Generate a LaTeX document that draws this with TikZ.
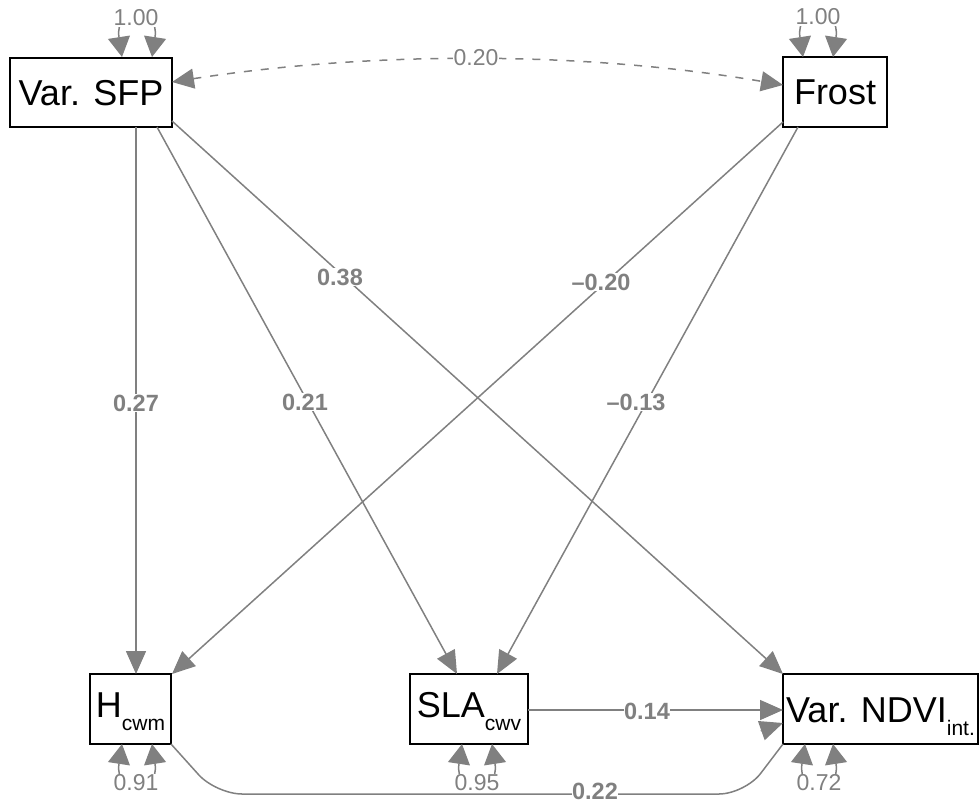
\documentclass[tikz,border=0pt]{standalone}
\usepackage{fontspec}
\setmainfont{Liberation Sans}
\usetikzlibrary{arrows.meta}
\definecolor{edgegray}{HTML}{808080}
\newcommand\subtxt[1]{\raisebox{-13pt}{\fontsize{21}{21}\selectfont #1}}
\begin{document}
\begin{tikzpicture}[x=1pt,y=-1pt,
  box/.style={draw=black,line width=2pt,inner sep=0pt,text height=25.8pt,text depth=0pt,
              font=\fontsize{36}{36}\selectfont},
  edge/.style={draw=edgegray,line width=1.5pt,-{Triangle[length=23pt,width=20pt]}},
  loopedge/.style={draw=edgegray,line width=1.5pt,{Triangle[length=20pt,width=22pt]}-{Triangle[length=20pt,width=22pt]}},
  covedge/.style={draw=edgegray,line width=1.5pt,dash pattern=on 8pt off 9pt,{Triangle[length=22pt,width=20pt]}-{Triangle[length=22pt,width=20pt]}},
  lbl/.style={fill=white,inner sep=0.5pt,text=edgegray,font=\bfseries\fontsize{23.5}{23.5}\selectfont},
  rlbl/.style={fill=white,inner sep=0.5pt,text=edgegray,font=\fontsize{23}{23}\selectfont}
]
\useasboundingbox (0,0) rectangle (980,803);

% nodes
\node[box,minimum width=162pt,minimum height=69pt] (sfp) at (91,92.5) {Var. SFP};
\node[box,minimum width=104pt,minimum height=70pt] (frost) at (835,92) {Frost};
\node[box,minimum width=81pt,minimum height=70pt] (hcwm) at (130.5,709) {\raisebox{4pt}{H\subtxt{cwm}}};
\node[box,minimum width=118pt,minimum height=70pt] (sla) at (469,709) {\raisebox{4pt}{SLA\subtxt{cwv}}};
\node[box,minimum width=195pt,minimum height=70pt] (ndvi) at (880.5,709) {\raisebox{-1pt}{Var. NDVI\subtxt{int.}}};

% connector end points
\coordinate (sfpA) at (136,127);
\coordinate (sfpB) at (157,127);
\coordinate (sfpC) at (172,121);
\coordinate (sfpD) at (172,82);
\coordinate (frA) at (783,122);
\coordinate (frB) at (798,127);
\coordinate (frD) at (783,85);
\coordinate (hA) at (136,674);
\coordinate (hB) at (172,674);
\coordinate (hC) at (171,744);
\coordinate (slaA) at (457,674);
\coordinate (slaB) at (497,674);
\coordinate (slaC) at (528,710);
\coordinate (ndA) at (783,674);
\coordinate (ndB) at (783,710);
\coordinate (ndC) at (783,744);
\coordinate (ndD) at (783,723);
\coordinate (ndE) at (760.8,730.8);

% residual loops
\draw[loopedge] (122,57) .. controls (114,5) and (160,5) .. (152,57);
\node[rlbl] (r1) at (136,18) {1.00};
\draw[loopedge] (803,57) .. controls (795,5) and (841,5) .. (833,57);
\node[rlbl] (r2) at (818,17) {1.00};
\draw[loopedge] (122,744) .. controls (114,796) and (160,796) .. (152,744);
\node[rlbl] (r3) at (136,783) {0.91};
\draw[loopedge] (462,744) .. controls (454,796) and (500,796) .. (492,744);
\node[rlbl] (r4) at (477,783) {0.95};
\draw[loopedge] (805,744) .. controls (797,796) and (841,796) .. (833,744);
\node[rlbl] (r5) at (819,783) {0.72};

% covariance
\draw[covedge] (sfpD) .. controls (372,51) and (583,51) .. (frD);
\node[rlbl] (c1) at (476,58) {0.20};

% regressions
\draw[edge] (sfpA) -- (hA);
\draw[edge] (sfpB) -- (slaA);
\draw[edge] (sfpC) -- (ndA);
\draw[edge] (frA) -- (hB);
\draw[edge] (frB) -- (slaB);
\draw[edge] (slaC) -- (ndB);
\draw[draw=edgegray,line width=1.5pt,rounded corners=26pt] (hC) -- (216,794) -- (745,794) -- (ndC);
\draw[edge] (ndE) -- (ndD);

% edge labels
\node[lbl] (l1) at (136,403) {0.27};
\node[lbl] (l2) at (305,402) {0.21};
\node[lbl] (l3) at (340,277) {0.38};
\node[lbl] (l4) at (601,282) {–0.20};
\node[lbl] (l5) at (636,402) {–0.13};
\node[lbl] (l6) at (647,711) {0.14};
\node[lbl] (l7) at (595,791) {0.22};
\end{tikzpicture}
\end{document}
